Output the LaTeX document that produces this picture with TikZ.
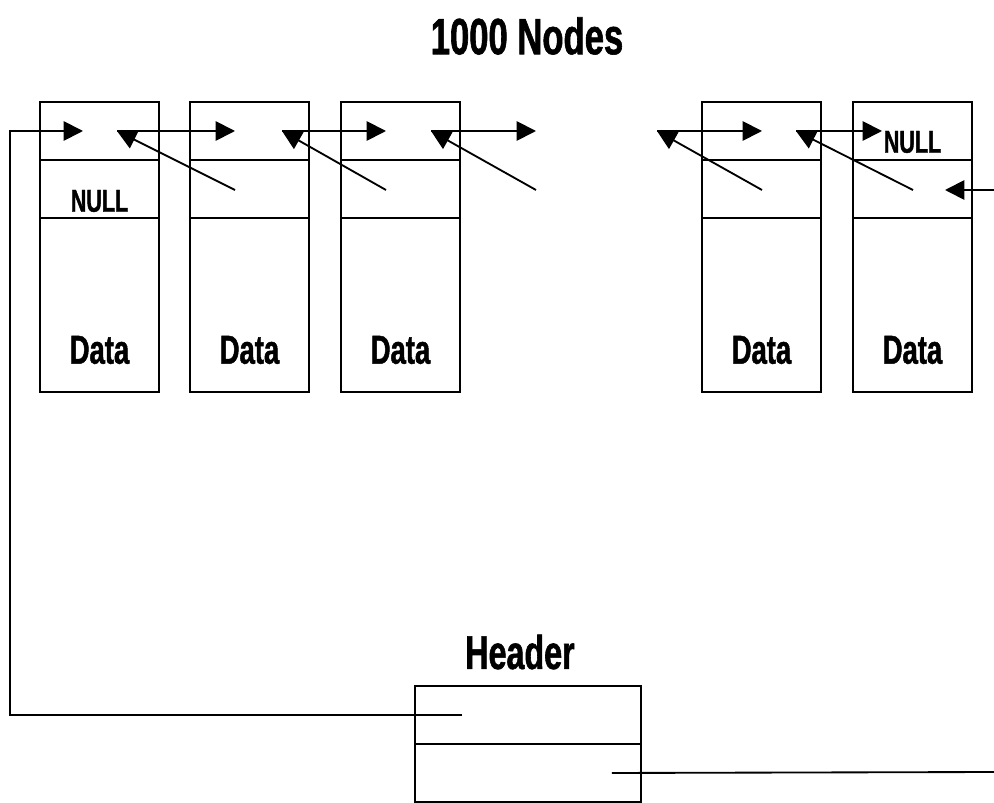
\documentclass[tikz,border=0pt]{standalone}
\usepackage{fontspec}
\usetikzlibrary{positioning, arrows.meta}
\newfontfamily\narrowfont[FakeStretch=0.68, FakeBold=1.2]{Liberation Sans}

\begin{document}
\begin{tikzpicture}[x=0.02cm, y=-0.02cm,
  cell/.style={draw, line width=1.05pt, minimum width=2.38cm, minimum height=1.16cm, inner sep=0pt, outer sep=0pt},
  datacell/.style={cell, minimum height=3.48cm},
  hdcell/.style={cell, minimum width=4.52cm},
  lnk/.style={line width=1.05pt},
  arr/.style={lnk, -{Triangle[length=11pt,width=11pt]}},
  datalbl/.style={font=\narrowfont\bfseries\fontsize{23}{26}\selectfont},
  nulllbl/.style={font=\narrowfont\bfseries\fontsize{18}{20}\selectfont, inner sep=0pt},
  titlelbl/.style={font=\narrowfont\bfseries\fontsize{29}{32}\selectfont}
]
\useasboundingbox (0,0) rectangle (994,803);

% list nodes
\foreach \n/\x in {1/99.5, 2/249.5, 3/400.5, 4/761.5, 5/912.5} {
  \node[cell] (ptr\n) at (\x,131) {};
  \node[cell, below=0pt of ptr\n] (lnk\n) {};
  \node[datacell, below=0pt of lnk\n, label={[datalbl, yshift=-0.9cm]center:Data}] (dat\n) {};
}
\node[nulllbl] (null1) at ([yshift=-0.24cm]lnk1.center) {NULL};
\node[nulllbl] (null5) at ([yshift=-0.22cm]ptr5.center) {NULL};

% header
\node[hdcell] (hd1) at (528,715) {};
\node[hdcell, below=0pt of hd1] (hd2) {};
\node[titlelbl, font=\narrowfont\bfseries\fontsize{27}{30}\selectfont] (hdtitle) at (520,652) {Header};
\node[titlelbl] (title) at (527,36) {1000 Nodes};

% links between nodes
\foreach \i/\q/\t/\d in {1/117/235/235, 2/282/386/386, 3/431/536/536, 4/657/762/762, 5/796/882/913} {
  \coordinate (pv\i) at (\q,131);
  \coordinate (nx\i) at (\t,131);
  \coordinate (bk\i) at (\d,190);
  \draw[arr] (pv\i) -- (nx\i);
  \draw[arr] (bk\i) -- (pv\i);
}

% header links
\coordinate (in1) at (83,131);
\coordinate (corner) at (10,715);
\coordinate (east1) at (994,772);
\coordinate (east2) at (994,190);
\coordinate (in5) at (945,190);
\draw[arr] ([xshift=-1.32cm]hd1.center) -- (corner) |- (in1);
\draw[lnk] ([xshift=1.68cm]hd2.center) -- (east1);
\draw[arr] (east2) -- (in5);

\end{tikzpicture}
\end{document}
